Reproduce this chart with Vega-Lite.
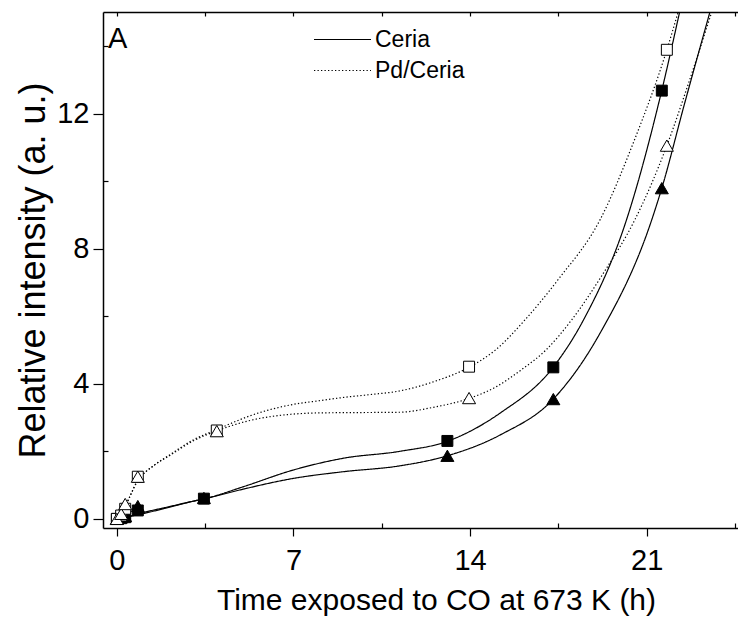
{
  "$schema": "https://vega.github.io/schema/vega-lite/v6.json",
  "width": 635,
  "height": 516,
  "autosize": {"type": "none"},
  "padding": {"left": 103, "top": 12, "right": 0, "bottom": 94},
  "config": {
    "view": {"stroke": null},
    "font": "Liberation Sans",
    "axis": {
      "grid": false,
      "domainColor": "black",
      "domainWidth": 1.5,
      "tickColor": "black",
      "tickWidth": 1.2,
      "labelColor": "black",
      "titleColor": "black",
      "labelFont": "Liberation Sans",
      "titleFont": "Liberation Sans",
      "labelFontSize": 29,
      "titleFontSize": 30,
      "titleFontWeight": "normal",
      "labelOverlap": false
    }
  },
  "datasets": {
    "fit": [
      {"catalyst": "Ceria", "peak": "I", "t": 0, "v": 0},
      {"catalyst": "Ceria", "peak": "I", "t": 0.5, "v": 0.07},
      {"catalyst": "Ceria", "peak": "I", "t": 1, "v": 0.15},
      {"catalyst": "Ceria", "peak": "I", "t": 2, "v": 0.33},
      {"catalyst": "Ceria", "peak": "I", "t": 3, "v": 0.52},
      {"catalyst": "Ceria", "peak": "I", "t": 3.5, "v": 0.6},
      {"catalyst": "Ceria", "peak": "I", "t": 5, "v": 0.95},
      {"catalyst": "Ceria", "peak": "I", "t": 7, "v": 1.45},
      {"catalyst": "Ceria", "peak": "I", "t": 9, "v": 1.8},
      {"catalyst": "Ceria", "peak": "I", "t": 11.2, "v": 2.0},
      {"catalyst": "Ceria", "peak": "I", "t": 13.1, "v": 2.3},
      {"catalyst": "Ceria", "peak": "I", "t": 15.2, "v": 3.14},
      {"catalyst": "Ceria", "peak": "I", "t": 17.3, "v": 4.5},
      {"catalyst": "Ceria", "peak": "I", "t": 18.5, "v": 5.9},
      {"catalyst": "Ceria", "peak": "I", "t": 20.2, "v": 8.86},
      {"catalyst": "Ceria", "peak": "I", "t": 21.6, "v": 12.7},
      {"catalyst": "Ceria", "peak": "I", "t": 22.3, "v": 15},
      {"catalyst": "Ceria", "peak": "II", "t": 0, "v": 0},
      {"catalyst": "Ceria", "peak": "II", "t": 0.5, "v": 0.08},
      {"catalyst": "Ceria", "peak": "II", "t": 1, "v": 0.18},
      {"catalyst": "Ceria", "peak": "II", "t": 2, "v": 0.35},
      {"catalyst": "Ceria", "peak": "II", "t": 3, "v": 0.52},
      {"catalyst": "Ceria", "peak": "II", "t": 3.5, "v": 0.6},
      {"catalyst": "Ceria", "peak": "II", "t": 5, "v": 0.88},
      {"catalyst": "Ceria", "peak": "II", "t": 7, "v": 1.2},
      {"catalyst": "Ceria", "peak": "II", "t": 9, "v": 1.4},
      {"catalyst": "Ceria", "peak": "II", "t": 11.2, "v": 1.57},
      {"catalyst": "Ceria", "peak": "II", "t": 13.1, "v": 1.87},
      {"catalyst": "Ceria", "peak": "II", "t": 15.2, "v": 2.49},
      {"catalyst": "Ceria", "peak": "II", "t": 17.3, "v": 3.55},
      {"catalyst": "Ceria", "peak": "II", "t": 19.15, "v": 5.5},
      {"catalyst": "Ceria", "peak": "II", "t": 21.2, "v": 8.86},
      {"catalyst": "Ceria", "peak": "II", "t": 21.6, "v": 9.8},
      {"catalyst": "Ceria", "peak": "II", "t": 22.5, "v": 12.3},
      {"catalyst": "Ceria", "peak": "II", "t": 23.5, "v": 15},
      {"catalyst": "Pd/Ceria", "peak": "I", "t": 0, "v": 0},
      {"catalyst": "Pd/Ceria", "peak": "I", "t": 0.33, "v": 0.38},
      {"catalyst": "Pd/Ceria", "peak": "I", "t": 0.8, "v": 1.1},
      {"catalyst": "Pd/Ceria", "peak": "I", "t": 1.5, "v": 1.6},
      {"catalyst": "Pd/Ceria", "peak": "I", "t": 2.1, "v": 1.9},
      {"catalyst": "Pd/Ceria", "peak": "I", "t": 3, "v": 2.33},
      {"catalyst": "Pd/Ceria", "peak": "I", "t": 4, "v": 2.66},
      {"catalyst": "Pd/Ceria", "peak": "I", "t": 5.3, "v": 3.06},
      {"catalyst": "Pd/Ceria", "peak": "I", "t": 6.9, "v": 3.38},
      {"catalyst": "Pd/Ceria", "peak": "I", "t": 8, "v": 3.5},
      {"catalyst": "Pd/Ceria", "peak": "I", "t": 9, "v": 3.6},
      {"catalyst": "Pd/Ceria", "peak": "I", "t": 10, "v": 3.68},
      {"catalyst": "Pd/Ceria", "peak": "I", "t": 11.2, "v": 3.79},
      {"catalyst": "Pd/Ceria", "peak": "I", "t": 12.5, "v": 4.05},
      {"catalyst": "Pd/Ceria", "peak": "I", "t": 14, "v": 4.51},
      {"catalyst": "Pd/Ceria", "peak": "I", "t": 15, "v": 5.0},
      {"catalyst": "Pd/Ceria", "peak": "I", "t": 16.18, "v": 5.9},
      {"catalyst": "Pd/Ceria", "peak": "I", "t": 17.5, "v": 7.1},
      {"catalyst": "Pd/Ceria", "peak": "I", "t": 19.15, "v": 8.86},
      {"catalyst": "Pd/Ceria", "peak": "I", "t": 20.5, "v": 11.2},
      {"catalyst": "Pd/Ceria", "peak": "I", "t": 21.8, "v": 13.9},
      {"catalyst": "Pd/Ceria", "peak": "I", "t": 22.24, "v": 15},
      {"catalyst": "Pd/Ceria", "peak": "II", "t": 0, "v": 0},
      {"catalyst": "Pd/Ceria", "peak": "II", "t": 0.33, "v": 0.38},
      {"catalyst": "Pd/Ceria", "peak": "II", "t": 0.8, "v": 1.1},
      {"catalyst": "Pd/Ceria", "peak": "II", "t": 1.5, "v": 1.6},
      {"catalyst": "Pd/Ceria", "peak": "II", "t": 2.1, "v": 1.88},
      {"catalyst": "Pd/Ceria", "peak": "II", "t": 3, "v": 2.3},
      {"catalyst": "Pd/Ceria", "peak": "II", "t": 4, "v": 2.62},
      {"catalyst": "Pd/Ceria", "peak": "II", "t": 5.3, "v": 2.92},
      {"catalyst": "Pd/Ceria", "peak": "II", "t": 6.9, "v": 3.1},
      {"catalyst": "Pd/Ceria", "peak": "II", "t": 8, "v": 3.14},
      {"catalyst": "Pd/Ceria", "peak": "II", "t": 9.5, "v": 3.15},
      {"catalyst": "Pd/Ceria", "peak": "II", "t": 11.2, "v": 3.16},
      {"catalyst": "Pd/Ceria", "peak": "II", "t": 12.5, "v": 3.3},
      {"catalyst": "Pd/Ceria", "peak": "II", "t": 14, "v": 3.58},
      {"catalyst": "Pd/Ceria", "peak": "II", "t": 15, "v": 3.9},
      {"catalyst": "Pd/Ceria", "peak": "II", "t": 16, "v": 4.4},
      {"catalyst": "Pd/Ceria", "peak": "II", "t": 17, "v": 5.0},
      {"catalyst": "Pd/Ceria", "peak": "II", "t": 18.03, "v": 5.9},
      {"catalyst": "Pd/Ceria", "peak": "II", "t": 19.3, "v": 7.3},
      {"catalyst": "Pd/Ceria", "peak": "II", "t": 20.53, "v": 8.86},
      {"catalyst": "Pd/Ceria", "peak": "II", "t": 21.8, "v": 11.06},
      {"catalyst": "Pd/Ceria", "peak": "II", "t": 22.7, "v": 13.0},
      {"catalyst": "Pd/Ceria", "peak": "II", "t": 23.57, "v": 15}
    ],
    "measured": [
      {"catalyst": "Ceria", "peak": "I", "t": 0, "v": 0},
      {"catalyst": "Ceria", "peak": "I", "t": 0.17, "v": 0.02},
      {"catalyst": "Ceria", "peak": "I", "t": 0.33, "v": 0.05},
      {"catalyst": "Ceria", "peak": "I", "t": 0.83, "v": 0.25},
      {"catalyst": "Ceria", "peak": "I", "t": 3.45, "v": 0.6},
      {"catalyst": "Ceria", "peak": "I", "t": 13.1, "v": 2.31},
      {"catalyst": "Ceria", "peak": "I", "t": 17.3, "v": 4.49},
      {"catalyst": "Ceria", "peak": "I", "t": 21.6, "v": 12.69},
      {"catalyst": "Ceria", "peak": "II", "t": 0, "v": 0},
      {"catalyst": "Ceria", "peak": "II", "t": 0.17, "v": 0.05},
      {"catalyst": "Ceria", "peak": "II", "t": 0.33, "v": 0.08},
      {"catalyst": "Ceria", "peak": "II", "t": 0.83, "v": 0.38},
      {"catalyst": "Ceria", "peak": "II", "t": 3.45, "v": 0.62},
      {"catalyst": "Ceria", "peak": "II", "t": 13.1, "v": 1.87},
      {"catalyst": "Ceria", "peak": "II", "t": 17.3, "v": 3.55},
      {"catalyst": "Ceria", "peak": "II", "t": 21.6, "v": 9.8},
      {"catalyst": "Pd/Ceria", "peak": "I", "t": 0, "v": 0},
      {"catalyst": "Pd/Ceria", "peak": "I", "t": 0.17, "v": 0.1},
      {"catalyst": "Pd/Ceria", "peak": "I", "t": 0.33, "v": 0.3},
      {"catalyst": "Pd/Ceria", "peak": "I", "t": 0.83, "v": 1.25},
      {"catalyst": "Pd/Ceria", "peak": "I", "t": 3.96, "v": 2.62},
      {"catalyst": "Pd/Ceria", "peak": "I", "t": 13.96, "v": 4.51},
      {"catalyst": "Pd/Ceria", "peak": "I", "t": 21.8, "v": 13.9},
      {"catalyst": "Pd/Ceria", "peak": "II", "t": 0, "v": 0},
      {"catalyst": "Pd/Ceria", "peak": "II", "t": 0.17, "v": 0.15},
      {"catalyst": "Pd/Ceria", "peak": "II", "t": 0.33, "v": 0.44},
      {"catalyst": "Pd/Ceria", "peak": "II", "t": 0.83, "v": 1.25},
      {"catalyst": "Pd/Ceria", "peak": "II", "t": 3.96, "v": 2.6},
      {"catalyst": "Pd/Ceria", "peak": "II", "t": 13.96, "v": 3.58},
      {"catalyst": "Pd/Ceria", "peak": "II", "t": 21.8, "v": 11.06}
    ]
  },
  "layer": [
    {
      "data": {"name": "fit"},
      "mark": {"type": "line", "interpolate": "monotone", "clip": true, "color": "black", "strokeWidth": 1.2},
      "encoding": {
        "x": {
          "field": "t", "type": "quantitative",
          "scale": {"domain": [-0.55, 24.62], "nice": false, "zero": false},
          "axis": {
            "orient": "bottom",
            "title": "Time exposed to CO at 673 K (h)",
            "values": [0, 3.5, 7, 10.5, 14, 17.5, 21, 24.5],
            "labelExpr": "datum.value % 7 === 0 ? datum.label : ''",
            "tickSize": {"condition": {"test": "datum.value % 7 === 0", "value": 8}, "value": -5},
            "labelPadding": 10,
            "titlePadding": 10,
            "titleX": 333
          }
        },
        "y": {
          "field": "v", "type": "quantitative",
          "scale": {"domain": [-0.27, 15.02], "nice": false, "zero": false},
          "axis": {
            "title": "Relative intensity (a. u.)",
            "titleFontSize": 36,
            "values": [0, 2, 4, 6, 8, 10, 12, 14],
            "labelExpr": "datum.value % 4 === 0 ? datum.label : ''",
            "tickSize": {"condition": {"test": "datum.value % 4 === 0", "value": 10}, "value": -5},
            "labelPadding": 4,
            "titlePadding": 4
          }
        },
        "detail": {"field": "peak"},
        "strokeDash": {
          "field": "catalyst", "type": "nominal",
          "scale": {"domain": ["Ceria", "Pd/Ceria"], "range": [[1, 0], [1.3, 2.2]]},
          "legend": {
            "orient": "none",
            "legendX": 210,
            "legendY": 12,
            "title": null,
            "padding": 0,
            "symbolType": "stroke",
            "symbolSize": 3249,
            "symbolStrokeWidth": 1.2,
            "symbolStrokeColor": "black",
            "labelFont": "Liberation Sans",
            "labelFontSize": 23,
            "labelColor": "black",
            "labelOffset": 3,
            "clipHeight": 31,
            "rowPadding": 0
          }
        }
      }
    },
    {
      "data": {"name": "measured"},
      "mark": {"type": "point", "filled": true, "stroke": "black", "strokeWidth": 1, "opacity": 1},
      "encoding": {
        "x": {
          "field": "t", "type": "quantitative",
          "scale": {"domain": [-0.55, 24.62], "nice": false, "zero": false},
          "axis": {
            "orient": "top",
            "title": null,
            "labels": false,
            "values": [0, 3.5, 7, 10.5, 14, 17.5, 21, 24.5],
            "tickSize": -4
          }
        },
        "y": {"field": "v", "type": "quantitative"},
        "shape": {
          "field": "peak", "type": "nominal",
          "scale": {"domain": ["I", "II"], "range": ["square", "triangle-up"]},
          "legend": null
        },
        "fill": {
          "field": "catalyst", "type": "nominal",
          "scale": {"domain": ["Ceria", "Pd/Ceria"], "range": ["black", "white"]},
          "legend": null
        },
        "size": {
          "field": "peak", "type": "ordinal",
          "scale": {"domain": ["I", "II"], "range": [120, 170]},
          "legend": null
        }
      }
    },
    {
      "data": {"values": [{"panel": "A"}]},
      "mark": {"type": "text", "align": "left", "baseline": "alphabetic", "fontSize": 29, "font": "Liberation Sans", "color": "black"},
      "encoding": {
        "x": {"datum": -0.35, "type": "quantitative", "axis": null},
        "y": {"datum": 13.96, "type": "quantitative"},
        "text": {"field": "panel"}
      }
    }
  ],
  "resolve": {"axis": {"x": "independent"}}
}
